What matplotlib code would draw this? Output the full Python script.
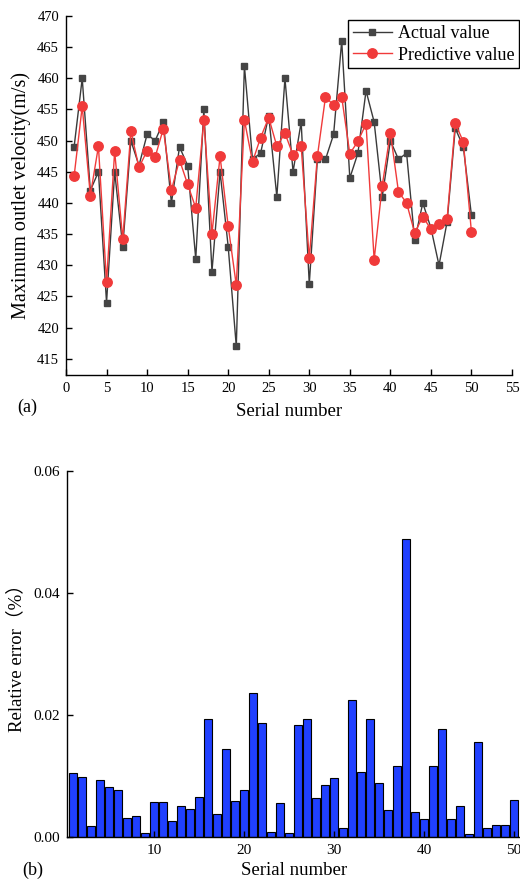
import matplotlib
matplotlib.use("Agg")
import matplotlib.pyplot as plt
import numpy as np

plt.rcParams['font.family'] = ['Liberation Serif', 'Noto Sans CJK SC']
plt.rcParams['mathtext.fontset'] = 'stix'

serial = list(range(1, 51))
actual = [449, 460, 442, 445, 424, 445, 433, 450, 446, 451,
          450, 453, 440, 449, 446, 431, 455, 429, 445, 433,
          417, 462, 447, 448, 454, 441, 460, 445, 453, 427,
          447, 447, 451, 466, 444, 448, 458, 453, 441, 450,
          447, 448, 434, 440, 436, 430, 437, 452, 449, 438]
predicted = [444.3, 455.5, 441.2, 449.1, 427.3, 448.3, 434.2, 451.5, 445.7, 448.4,
             447.4, 451.9, 442.1, 446.9, 443.0, 439.2, 453.3, 435.1, 447.5, 436.3,
             426.8, 453.3, 446.6, 450.5, 453.7, 449.1, 451.2, 447.7, 449.1, 431.1,
             447.5, 457.0, 455.7, 457.0, 447.9, 449.9, 452.7, 430.9, 442.8, 451.3,
             441.8, 440.0, 435.2, 437.8, 435.8, 436.6, 437.5, 452.8, 449.8, 435.3]
rel_error = [0.01045, 0.0098, 0.00175, 0.00925, 0.0081, 0.00766, 0.0030, 0.00345, 0.00055, 0.00575,
             0.00575, 0.00257, 0.0050, 0.00449, 0.0065, 0.01938, 0.00367, 0.01445, 0.0058, 0.00766,
             0.02354, 0.01866, 0.0007, 0.00558, 0.0006, 0.0184, 0.01927, 0.0064, 0.00854, 0.00969,
             0.00148, 0.02244, 0.01056, 0.01938, 0.00887, 0.00438, 0.01166, 0.04882, 0.00405, 0.00285,
             0.01166, 0.01773, 0.0029, 0.0050, 0.00044, 0.01549, 0.00137, 0.00192, 0.0020, 0.0060]

top_xticks = [0, 5, 10, 15, 20, 25, 30, 35, 40, 45, 50, 55]
top_yticks = [415, 420, 425, 430, 435, 440, 445, 450, 455, 460, 465, 470]
bot_xticks = [10, 20, 30, 40, 50]
bot_yticks = [0.00, 0.02, 0.04, 0.06]

W, H = 520, 891
fig = plt.figure(figsize=(W / 100, H / 100), dpi=100)

# ---- top chart ----
ax1 = fig.add_axes([66 / W, 1 - 375 / H, (512 - 66) / W, (375 - 16) / H])
ax1.plot(serial, actual, color='#3a3a3a', lw=1.0, marker='s', ms=5.0,
         mfc='#454545', mec='#454545', label='Actual value', zorder=3)
ax1.plot(serial, predicted, color='#f03a3a', lw=1.0, marker='o', ms=6.8,
         mfc='#f03a3a', mec='#f03a3a', label='Predictive value', zorder=4)
ax1.set_xlim(0, 55)
ax1.set_ylim(412.4, 470)
ax1.set_xticks(top_xticks)
ax1.set_yticks(top_yticks)
for s in ['top', 'right']:
    ax1.spines[s].set_visible(False)
for s in ['left', 'bottom']:
    ax1.spines[s].set_linewidth(1.0)
ax1.tick_params(direction='in', length=4, width=1.0, labelsize=10.5, pad=5)
ax1.set_ylabel('Maximum outlet velocity(m/s)', fontsize=14.5, labelpad=4)
ax1.set_xlabel('Serial number', fontsize=13.5, labelpad=6)
leg = fig.legend(loc='upper left', bbox_to_anchor=(348 / W, 1 - 20.5 / H),
                 bbox_transform=fig.transFigure, fontsize=13, frameon=True,
                 fancybox=False, edgecolor='black', borderpad=0.25,
                 labelspacing=0.25, handlelength=2.2, handletextpad=0.3,
                 borderaxespad=0, framealpha=1)
leg.get_frame().set_linewidth(1.0)
fig.text(27 / W, 1 - 407 / H, '(a)', fontsize=13, ha='center', va='center')

# ---- bottom chart ----
ax2 = fig.add_axes([67.3 / W, 1 - 836.7 / H, (520 - 67.3) / W, (836.7 - 471.3) / H])
ax2.bar(serial, rel_error, width=0.8, color='#2040ff', edgecolor='black', linewidth=0.8)
ax2.set_xlim(0.37, 50.67)
ax2.set_ylim(0, 0.06)
ax2.set_xticks(bot_xticks)
ax2.set_yticks(bot_yticks)
ax2.set_yticklabels([f'{v:.2f}' for v in bot_yticks])
for s in ['top', 'right']:
    ax2.spines[s].set_visible(False)
for s in ['left', 'bottom']:
    ax2.spines[s].set_linewidth(1.0)
ax2.tick_params(direction='in', length=4, width=1.0, labelsize=11, pad=5)
ax2.set_ylabel('Relative error（%）', fontsize=13.5, labelpad=6)
ax2.set_xlabel('Serial number', fontsize=13.5, labelpad=4)
fig.text(33 / W, 1 - 870 / H, '(b)', fontsize=13, ha='center', va='center')

fig.savefig('out.png', dpi=100)
